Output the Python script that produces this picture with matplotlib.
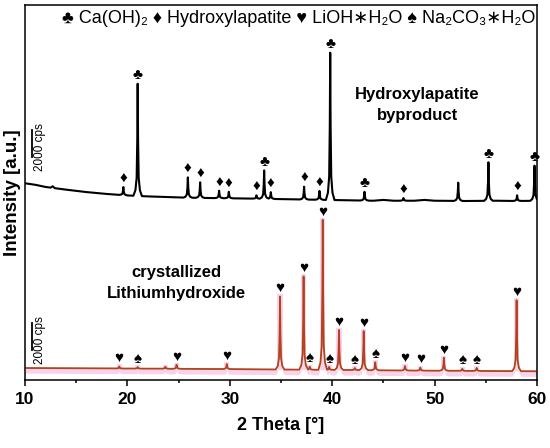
import numpy as np
import matplotlib
matplotlib.use("Agg")
import matplotlib.pyplot as plt

plt.rcParams['font.family'] = ['Liberation Sans', 'DejaVu Sans']

# ---------------- data ----------------
# Hydroxylapatite byproduct (top trace), intensities in cps (without offset)
hap_bg_x = [10, 11, 12, 12.5, 12.7, 12.9, 14, 16, 18, 20, 22, 25, 28, 30, 32, 35,
            38, 41, 44, 45, 46, 48, 49, 50, 53, 56, 58, 60]
hap_bg_y = [1850, 1740, 1580, 1530, 1630, 1490, 1380, 1200, 1060, 950, 880, 800, 760, 740,
            720, 680, 640, 600, 560, 620, 560, 560, 620, 560, 540, 560, 540, 560]
hap_pos = [19.6, 21.0, 25.9, 27.1, 28.95, 29.9, 32.6, 33.35, 34.0, 37.25, 38.75, 39.8,
           43.15, 46.95, 52.3, 55.25, 58.05, 59.75]
hap_h = [600, 8300, 1500, 1150, 550, 480, 250, 2100, 500, 950, 650, 10900,
         650, 200, 1350, 2850, 420, 2600]
hap_sym = ['♦', '♣', '♦', '♦', '♦', '♦', '♦', '♣', '♦', '♦', '♦', '♣',
           '♣', '♦', '', '♣', '♦', '♣']

# crystallized Lithiumhydroxide (bottom trace), intensities in cps
lih_bg_x = [10, 20, 30, 40, 50, 60]
lih_bg_y = [880, 840, 800, 740, 680, 640]
lih_pos = [19.2, 21.0, 23.7, 24.8, 29.7, 34.9, 37.2, 37.8, 39.07, 39.7, 40.66, 42.2,
           43.07, 44.2, 47.1, 48.6, 50.9, 52.7, 54.1, 58.0]
lih_h = [150, 110, 150, 300, 370, 5400, 6900, 220, 11100, 220, 2960, 150,
         2890, 590, 330, 220, 960, 150, 220, 5250]
lih_sym = ['♥', '♠', '', '♥', '♥', '♥', '♥', '♠', '♥', '♠', '♥', '♠',
           '♥', '♠', '♥', '♥', '♥', '♠', '♠', '♥']

hap_offset = 12700
scale_cps = 2000
x_ticks = [10, 20, 30, 40, 50, 60]
legend_text = '♣ Ca(OH)₂ ♦ Hydroxylapatite ♥ LiOH∗H₂O ♠ Na₂CO₃∗H₂O'

# peak drawing template (shape only): offsets in degrees and relative heights
shape_dx = [-0.42, -0.22, -0.1, -0.04, 0.0, 0.04, 0.1, 0.22, 0.42]
shape_f = [0.0, 0.05, 0.16, 0.5, 1.0, 0.5, 0.16, 0.05, 0.0]


def build(bg_x, bg_y, pos, h):
    xs = list(bg_x)
    for p in pos:
        xs += [p + d for d in shape_dx]
    xs = np.array(sorted(set(np.round(xs, 4))))
    ys = np.interp(xs, bg_x, bg_y)
    for p, hh in zip(pos, h):
        prof = np.interp(xs, [p + d for d in shape_dx], shape_f, left=0, right=0)
        ys = ys + hh * prof
    return xs, ys


fig = plt.figure(figsize=(5.5, 4.48), dpi=100)
ax = fig.add_axes([0.0455, 0.152, 0.931, 0.837])

# bottom trace
bx, by = build(lih_bg_x, lih_bg_y, lih_pos, lih_h)
pink = '#f9d2ec'
ax.fill_between(bx, by - 380, np.interp(bx, lih_bg_x, lih_bg_y), color=pink, lw=0, zorder=1)
lbg = np.interp(lih_pos, lih_bg_x, lih_bg_y)
ax.bar(lih_pos, np.array(lih_h) + 150, width=0.5, bottom=lbg, color=pink, lw=0, zorder=1)
ax.plot(bx, by, color='#a6521e', lw=1.3, zorder=2)
ax.plot(bx, by, color='#cc2a1c', lw=0.5, alpha=0.7, zorder=3)

# top trace
tx, ty = build(hap_bg_x, hap_bg_y, hap_pos, hap_h)
ax.plot(tx, ty + hap_offset, color='black', lw=1.5, zorder=3)

# markers
hbg = np.interp(hap_pos, hap_bg_x, hap_bg_y) + hap_offset
for p, hh, b, s in zip(hap_pos, hap_h, hbg, hap_sym):
    if s:
        ax.annotate(s, (p, b + hh), xytext=(0, 1.0), textcoords='offset points',
                    ha='center', va='bottom', fontsize=11, zorder=4)
for p, hh, b, s in zip(lih_pos, lih_h, lbg, lih_sym):
    if s:
        ax.annotate(s, (p, b + hh), xytext=(0, 1.0), textcoords='offset points',
                    ha='center', va='bottom', fontsize=11, zorder=4)

# scale bars
for y0 in [16500, 2220]:
    ax.plot([10.68, 10.68], [y0, y0 + scale_cps], color='black', lw=1.3)
    ax.text(11.45, y0 + scale_cps / 2 - 250, f'{scale_cps} cps', rotation=90,
            ha='center', va='center', fontsize=8.5)

ax.text(13.6, 0.963, legend_text, family=['Liberation Sans', 'Noto Sans', 'DejaVu Sans'],
        transform=ax.get_xaxis_transform(), ha='left', va='center', fontsize=13)
ax.text(48.3, 0.733, 'Hydroxylapatite\nbyproduct', transform=ax.get_xaxis_transform(),
        ha='center', va='center', fontsize=12, fontweight='bold', linespacing=1.45)
ax.text(24.8, 0.258, 'crystallized\nLithiumhydroxide', transform=ax.get_xaxis_transform(),
        ha='center', va='center', fontsize=12, fontweight='bold', linespacing=1.45)

ax.set_xlim(10, 60)
ax.set_ylim(0, 27750)
ax.set_xticks(x_ticks)
ax.set_xticks([15, 25, 35, 45, 55], minor=True)
ax.set_xticklabels([str(t) for t in x_ticks], fontweight='bold', fontsize=12.5)
ax.set_yticks([])
ax.tick_params(axis='x', which='major', length=4, width=1.1, direction='out', pad=5)
ax.tick_params(axis='x', which='minor', length=2.5, width=1.1, direction='out')
for sp in ax.spines.values():
    sp.set_linewidth(1.1)
ax.set_xlabel('2 Theta [°]', fontweight='bold', fontsize=13, labelpad=7)
ax.set_ylabel('Intensity [a.u.]', fontweight='bold', fontsize=13.5, labelpad=3)

fig.savefig('out.png', dpi=100)
